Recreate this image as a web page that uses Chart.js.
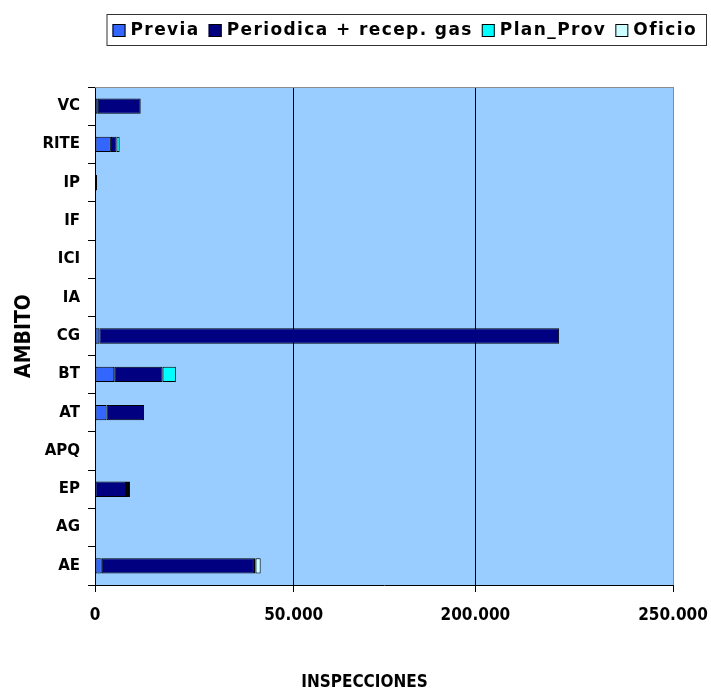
<script src="https://cdn.jsdelivr.net/npm/chart.js"></script>

<style>
  body { margin: 0; background: #fff; }
</style>
<canvas id="myChart" width="711" height="693"></canvas>

<script>
// Datos
const categories = ['VC', 'RITE', 'IP', 'IF', 'ICI', 'IA', 'CG', 'BT', 'AT', 'APQ', 'EP', 'AG', 'AE'];
const previa    = [700, 4000, 0, 0, 0, 0, 1100, 4850, 2900, 0, 0, 0, 1700];
const periodica = [10800, 1400, 500, 0, 0, 0, 220100, 12150, 9450, 0, 7800, 0, 38300];
const planProv  = [0, 800, 0, 0, 0, 0, 0, 3350, 0, 0, 500, 0, 400];
const oficio    = [0, 0, 0, 0, 0, 0, 0, 0, 0, 0, 500, 0, 1300];
const seriesNames = ['Previa', 'Periodica + recep. gas', 'Plan_Prov', 'Oficio'];
const seriesColors = ['#3366FF', '#000080', '#00FFFF', '#CCFFFF'];
const xTicks = [0, 50000, 200000, 250000];

// escala con eje cortado: cada tramo entre ticks tiene su propio ancho relativo
class BrokenLinearScale extends Chart.LinearScale {
  buildTicks() {
    return xTicks.map(v => ({ value: v }));
  }
  _cum() {
    const w = this.options.segmentWidths || xTicks.slice(1).map(() => 1);
    const tot = w.reduce((a, b) => a + b, 0);
    const cum = [0];
    w.forEach(v => cum.push(cum[cum.length - 1] + v / tot));
    return cum;
  }
  getPixelForValue(value) {
    const n = xTicks.length - 1;
    const cum = this._cum();
    let i = 0;
    while (i < n - 1 && value > xTicks[i + 1]) i++;
    const f = (value - xTicks[i]) / (xTicks[i + 1] - xTicks[i]);
    return this.getPixelForDecimal(cum[i] + f * (cum[i + 1] - cum[i]));
  }
  getValueForPixel(pixel) {
    const n = xTicks.length - 1;
    const cum = this._cum();
    const d = this.getDecimalForPixel(pixel);
    let i = 0;
    while (i < n - 1 && d > cum[i + 1]) i++;
    const f = (d - cum[i]) / (cum[i + 1] - cum[i]);
    return xTicks[i] + f * (xTicks[i + 1] - xTicks[i]);
  }
}
BrokenLinearScale.id = 'brokenLinear';
BrokenLinearScale.defaults = Chart.LinearScale.defaults;
Chart.register(BrokenLinearScale);

const fmt = v => String(v).replace(/\B(?=(\d{3})+(?!\d))/g, '.');
const condensed = '"DejaVu Sans Condensed", "Liberation Sans Narrow", "DejaVu Sans", sans-serif';

const plotBg = {
  id: 'plotBg',
  beforeDraw(chart) {
    const { ctx, chartArea: a } = chart;
    ctx.save();
    ctx.fillStyle = '#99CCFF';
    ctx.fillRect(a.left, a.top, a.right - a.left, a.bottom - a.top);
    ctx.restore();
  },
  afterDatasetsDraw(chart) {
    const { ctx, chartArea: a } = chart;
    ctx.save();
    ctx.strokeStyle = '#8c8c8c';
    ctx.lineWidth = 1;
    ctx.beginPath();
    ctx.moveTo(a.left, a.top + 0.5);
    ctx.lineTo(a.right, a.top + 0.5);
    ctx.stroke();
    // titulo del eje X, centrado sobre todo el grafico como en Excel
    ctx.fillStyle = '#000';
    ctx.font = 'bold 17px ' + condensed;
    ctx.textAlign = 'center';
    ctx.textBaseline = 'middle';
    ctx.fillText('INSPECCIONES', chart.width / 2 + 9, chart.height - 10);
    ctx.restore();
  }
};

// leyenda tipo Excel con recuadro
const boxLegend = {
  id: 'boxLegend',
  afterDraw(chart) {
    const ctx = chart.ctx;
    const ds = chart.data.datasets;
    ctx.save();
    ctx.font = 'bold 17px "DejaVu Sans", sans-serif';
    ctx.letterSpacing = '1.4px';
    const sq = 13, gapText = 5, gapItem = 9, padL = 6, padR = 9;
    const widths = ds.map(d => ctx.measureText(d.label).width);
    let total = padL + padR + gapItem * (ds.length - 1);
    widths.forEach(w => total += sq + gapText + w);
    const right = chart.width - 5;
    const left = right - total;
    const top = 14, h = 31;
    ctx.fillStyle = '#fff';
    ctx.fillRect(left, top, total, h);
    ctx.strokeStyle = '#333';
    ctx.lineWidth = 1;
    ctx.strokeRect(left + 0.5, top + 0.5, total, h);
    let x = left + padL;
    const cy = top + h / 2;
    ds.forEach((d, i) => {
      ctx.fillStyle = d.backgroundColor;
      ctx.fillRect(x, cy - sq / 2 + 1, sq, sq);
      ctx.strokeStyle = '#000';
      ctx.strokeRect(x + 0.5, cy - sq / 2 + 1.5, sq - 1, sq - 1);
      x += sq + gapText;
      ctx.fillStyle = '#000';
      ctx.textBaseline = 'middle';
      ctx.fillText(d.label, x, cy + 1);
      x += widths[i] + gapItem;
    });
    ctx.restore();
  }
};

const allSeries = [previa, periodica, planProv, oficio];
const data = {
  labels: categories,
  datasets: allSeries.map((vals, i) => ({
    label: seriesNames[i],
    data: vals,
    backgroundColor: seriesColors[i],
    borderColor: '#000',
    borderWidth: 1,
    borderSkipped: false,
    barPercentage: 0.4,
    categoryPercentage: 1
  }))
};

const config = {
  type: 'bar',
  data: data,
  options: {
    indexAxis: 'y',
    responsive: false,
    animation: false,
    layout: { padding: { top: 87, right: 38, left: 0, bottom: 0 } },
    plugins: {
      legend: { display: false },
      tooltip: { enabled: false }
    },
    scales: {
      x: {
        type: 'brokenLinear',
        stacked: true,
        min: 0,
        max: 250000,
        segmentWidths: [199, 182, 198],
        afterFit: s => { s.height = 108; s.paddingLeft = 0; s.paddingRight = 0; },
        border: { color: '#000' },
        grid: {
          color: c => c.index === xTicks.length - 1 ? '#8c8c8c' : '#000',
          tickColor: '#000',
          tickLength: 7
        },
        ticks: {
          color: '#000',
          padding: 13,
          maxRotation: 0,
          font: { family: condensed, weight: 'bold', size: 17 },
          callback: v => fmt(v)
        }
      },
      y: {
        stacked: true,
        afterFit: s => { s.width = 95; },
        border: { color: '#000' },
        grid: { drawOnChartArea: false, color: '#000', tickLength: 7, offset: true },
        ticks: {
          color: '#000',
          padding: 8,
          font: { family: '"DejaVu Sans", sans-serif', weight: 'bold', size: 15 }
        },
        title: {
          display: true,
          text: 'AMBITO',
          color: '#000',
          padding: { top: 12, bottom: 0 },
          font: { family: condensed, weight: 'bold', size: 21 }
        }
      }
    }
  },
  plugins: [plotBg, boxLegend]
};

var myChart = new Chart(document.getElementById('myChart'), config);
</script>
